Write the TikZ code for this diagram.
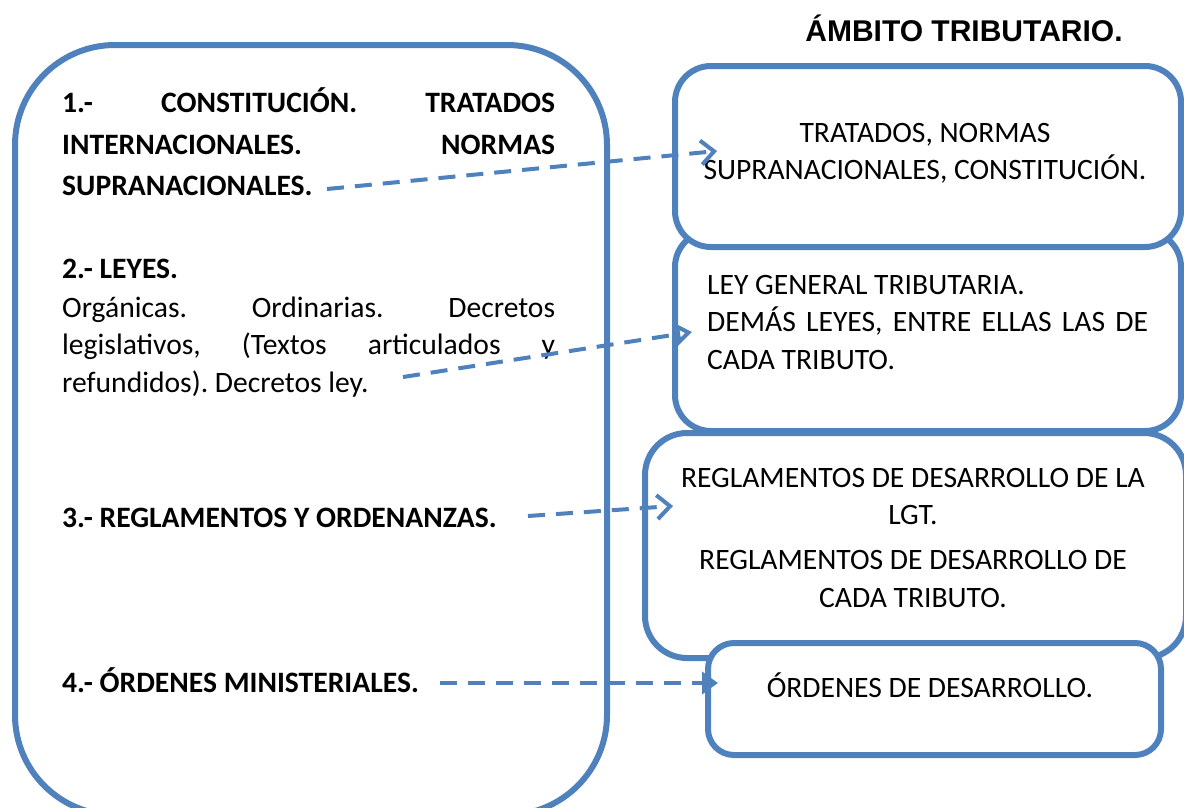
\documentclass[tikz,border=0pt]{standalone}
\usepackage{fontspec}
\setmainfont{Carlito}
\newfontfamily\titlefont{Liberation Sans}
\usetikzlibrary{arrows.meta}
\definecolor{bl}{HTML}{4F81BD}
\frenchspacing
\begin{document}
\begin{tikzpicture}[x=1pt,y=-1pt,
  box/.style={draw=bl, line width=6pt, fill=white, inner sep=0pt, anchor=north west},
  txt/.style={inner sep=0pt, anchor=base west, font=\fontsize{29.6}{37}\selectfont},
  ctxt/.style={inner sep=0pt, anchor=base, font=\fontsize{29.6}{37}\selectfont},
  conn/.style={draw=bl, line width=4pt, dash pattern=on 17pt off 11pt},
  barb/.style={-{Straight Barb[length=13pt,width=24pt,line width=4pt]}},
  otri/.style={-{Triangle[open,length=16pt,width=22pt,line width=4pt]}},
  ftri/.style={-{Triangle[length=16pt,width=22pt]}}
]
\useasboundingbox (0,0) rectangle (1184,807);
\clip (0,0) rectangle (1184,807);
% boxes
\node[box, rounded corners=100pt, minimum width=592pt, minimum height=770pt] (L) at (12,42) {};
\node[box, rounded corners=36pt, minimum width=506pt, minimum height=200pt] (B2) at (672,228) {};
\node[box, rounded corners=36pt, minimum width=506pt, minimum height=181pt] (B1) at (672,63) {};
\node[box, rounded corners=42pt, minimum width=541pt, minimum height=225pt] (B3) at (642,430) {};
\node[box, rounded corners=26pt, minimum width=453pt, minimum height=112pt] (B4) at (705,640) {};
% title
\node[inner sep=0pt, anchor=base, font=\titlefont\bfseries\fontsize{30}{35}\selectfont] (T) at (964,41) {ÁMBITO TRIBUTARIO.};
% left texts
\node[txt] (l1a) at (62,112) {\makebox[493pt][s]{\bfseries 1.- CONSTITUCIÓN. TRATADOS}};
\node[txt] (l1b) at (62,154) {\makebox[493pt][s]{\bfseries INTERNACIONALES. NORMAS}};
\node[txt] (l1c) at (62,195) {\bfseries SUPRANACIONALES.};
\node[txt] (l2a) at (62,278) {\bfseries 2.- LEYES.};
\node[txt] (l2b) at (62,317) {\makebox[493pt][s]{Orgánicas. Ordinarias. Decretos}};
\node[txt] (l2c) at (62,354) {\makebox[493pt][s]{legislativos, (Textos articulados y}};
\node[txt] (l2d) at (62,392) {refundidos). Decretos ley.};
\node[txt] (l3) at (62,527) {\bfseries 3.- REGLAMENTOS Y ORDENANZAS.};
\node[txt] (l4) at (62,692) {\bfseries 4.- ÓRDENES MINISTERIALES.};
% right texts
\node[ctxt] (r1a) at (925,142) {TRATADOS, NORMAS};
\node[ctxt] (r1b) at (925,179) {SUPRANACIONALES, CONSTITUCIÓN.};
\node[txt] (r2a) at (707,294) {LEY GENERAL TRIBUTARIA.};
\node[txt] (r2b) at (707,331) {\makebox[441pt][s]{DEMÁS LEYES, ENTRE ELLAS LAS DE}};
\node[txt] (r2c) at (707,369) {CADA TRIBUTO.};
\node[ctxt] (r3a) at (913,487) {REGLAMENTOS DE DESARROLLO DE LA};
\node[ctxt] (r3b) at (913,524) {LGT.};
\node[ctxt] (r3c) at (913,569) {REGLAMENTOS DE DESARROLLO DE};
\node[ctxt] (r3d) at (913,607) {CADA TRIBUTO.};
\node[ctxt] (r4) at (930,697) {ÓRDENES DE DESARROLLO.};
% connectors
\coordinate (a1s) at (327,189); \coordinate (a1e) at (717,151);
\coordinate (a2s) at (403,377); \coordinate (a2e) at (692,332);
\coordinate (a3s) at (528,516); \coordinate (a3e) at (673,506);
\coordinate (a4s) at (440,683); \coordinate (a4e) at (718,683);
\draw[conn, barb] (a1s) -- (a1e);
\draw[conn, otri] (a2s) -- (a2e);
\draw[conn, barb] (a3s) -- (a3e);
\draw[conn, ftri] (a4s) -- (a4e);
\end{tikzpicture}
\end{document}
